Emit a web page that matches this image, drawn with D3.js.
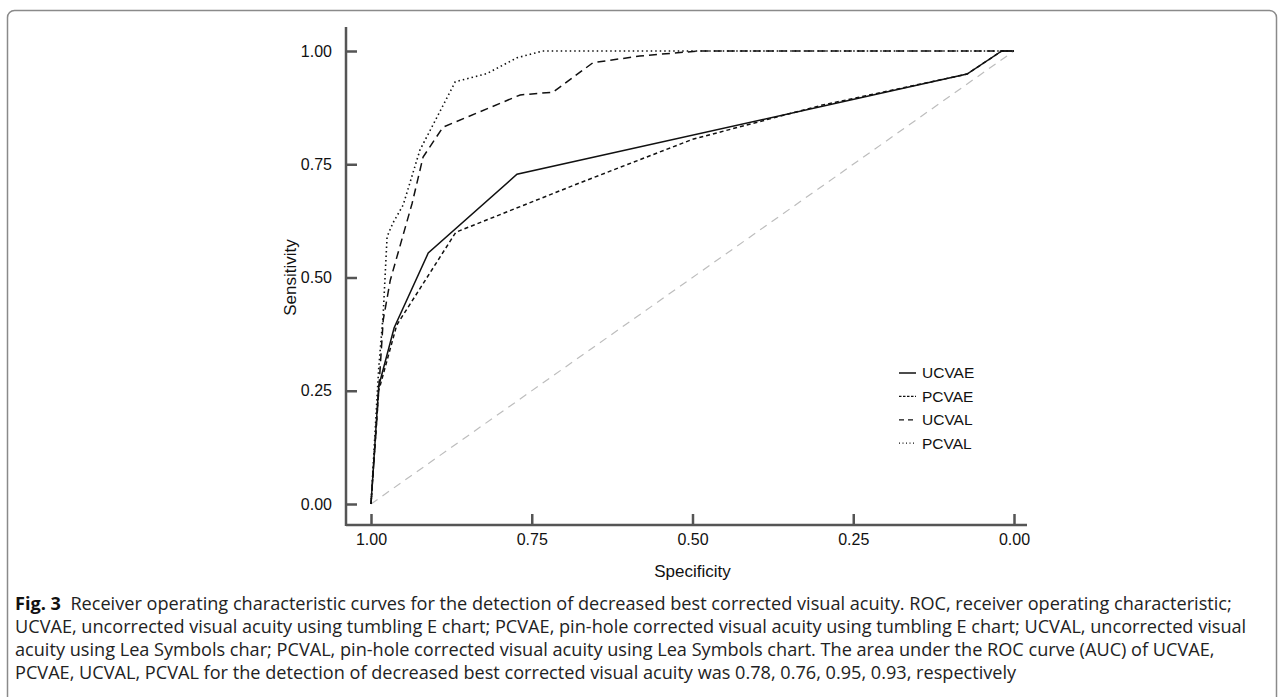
<!DOCTYPE html>
<html lang="en">
<head>
<meta charset="UTF-8">
<title>ROC curves</title>
<script src="https://cdn.jsdelivr.net/npm/d3@7"></script>
<style>
  body { margin: 0; background: #fff; }
  svg { display: block; }
</style>
</head>
<body>
<div id="chart"></div>
<script>
// ROC points: specificity (x, reversed) and sensitivity (y)
const ucvaeSpec = [1.00, 0.988, 0.964, 0.911, 0.773, 0.073, 0.019, 0.00];
const ucvaeSens = [0.00, 0.26, 0.389, 0.554, 0.728, 0.949, 1.00, 1.00];

const pcvaeSpec = [1.00, 0.988, 0.960, 0.868, 0.675, 0.50, 0.30, 0.073, 0.019, 0.00];
const pcvaeSens = [0.00, 0.25, 0.395, 0.600, 0.709, 0.805, 0.88, 0.949, 1.00, 1.00];

const ucvalSpec = [1.00, 0.988, 0.981, 0.970, 0.936, 0.919, 0.888, 0.768, 0.717, 0.655, 0.582, 0.49, 0.00];
const ucvalSens = [0.00, 0.25, 0.406, 0.494, 0.664, 0.766, 0.832, 0.903, 0.909, 0.974, 0.989, 1.00, 1.00];

const pcvalSpec = [1.00, 0.988, 0.981, 0.975, 0.966, 0.950, 0.924, 0.869, 0.82, 0.773, 0.733, 0.00];
const pcvalSens = [0.00, 0.30, 0.42, 0.59, 0.62, 0.66, 0.781, 0.932, 0.95, 0.985, 1.00, 1.00];

const seriesNames = ["UCVAE", "PCVAE", "UCVAL", "PCVAL"];
const tickValues = [1.00, 0.75, 0.50, 0.25, 0.00];

const captionLines = [
  ["Fig. 3", "  Receiver operating characteristic curves for the detection of decreased best corrected visual acuity. ROC, receiver operating characteristic;"],
  ["", "UCVAE, uncorrected visual acuity using tumbling E chart; PCVAE, pin-hole corrected visual acuity using tumbling E chart; UCVAL, uncorrected visual"],
  ["", "acuity using Lea Symbols char; PCVAL, pin-hole corrected visual acuity using Lea Symbols chart. The area under the ROC curve (AUC) of UCVAE,"],
  ["", "PCVAE, UCVAL, PCVAL for the detection of decreased best corrected visual acuity was 0.78, 0.76, 0.95, 0.93, respectively"]
];

const width = 1284;
const height = 697;

const dashes = {
  UCVAE: null,
  PCVAE: "4,3",
  UCVAL: "8,5",
  PCVAL: "1.5,3"
};

const series = [
  {name: "UCVAE", points: ucvaeSpec.map((s, i) => [s, ucvaeSens[i]])},
  {name: "PCVAE", points: pcvaeSpec.map((s, i) => [s, pcvaeSens[i]])},
  {name: "UCVAL", points: ucvalSpec.map((s, i) => [s, ucvalSens[i]])},
  {name: "PCVAL", points: pcvalSpec.map((s, i) => [s, pcvalSens[i]])}
];

const x = d3.scaleLinear().domain([1, 0]).range([371, 1014]);
const y = d3.scaleLinear().domain([0, 1]).range([504, 51]);

const svg = d3.select("#chart").append("svg")
  .attr("width", width)
  .attr("height", height);

// figure frame
svg.append("rect")
  .attr("x", 7.5).attr("y", 10.5)
  .attr("width", 1269).attr("height", 720)
  .attr("rx", 7)
  .attr("fill", "none")
  .attr("stroke", "#8a8a8a")
  .attr("stroke-width", 1.5);

const axisColor = "#555";

// x axis
const gx = svg.append("g")
  .attr("transform", "translate(0,525)")
  .call(d3.axisBottom(x)
    .tickValues(tickValues)
    .tickFormat(d3.format(".2f"))
    .tickSizeInner(-11)
    .tickSizeOuter(0)
    .tickPadding(9));
gx.select(".domain").remove();
gx.append("line")
  .attr("x1", 346).attr("x2", 1027)
  .attr("stroke", axisColor).attr("stroke-width", 2.5);

// y axis
const gy = svg.append("g")
  .attr("transform", "translate(346,0)")
  .call(d3.axisLeft(y)
    .tickValues(tickValues)
    .tickFormat(d3.format(".2f"))
    .tickSizeInner(-11)
    .tickSizeOuter(0)
    .tickPadding(14));
gy.select(".domain").remove();
gy.append("line")
  .attr("y1", 27).attr("y2", 526)
  .attr("stroke", axisColor).attr("stroke-width", 2.5);

[gx, gy].forEach(g => {
  g.selectAll(".tick line").attr("stroke", axisColor).attr("stroke-width", 2.5);
  g.selectAll(".tick text")
    .attr("fill", "#111")
    .attr("font-family", "Liberation Sans, Arial, sans-serif")
    .attr("font-size", 16);
});

// axis titles
svg.append("text")
  .attr("x", (x(1) + x(0)) / 2)
  .attr("y", 577)
  .attr("text-anchor", "middle")
  .attr("font-family", "Liberation Sans, Arial, sans-serif")
  .attr("font-size", 17)
  .attr("fill", "#111")
  .text("Specificity");

svg.append("text")
  .attr("transform", `translate(296,${(y(0) + y(1)) / 2}) rotate(-90)`)
  .attr("text-anchor", "middle")
  .attr("font-family", "Liberation Sans, Arial, sans-serif")
  .attr("font-size", 17)
  .attr("fill", "#111")
  .text("Sensitivity");

// reference diagonal
svg.append("line")
  .attr("x1", x(1)).attr("y1", y(0))
  .attr("x2", x(0)).attr("y2", y(1))
  .attr("stroke", "#bdbdbd")
  .attr("stroke-width", 1.2)
  .attr("stroke-dasharray", "8,6");

const line = d3.line()
  .x(d => x(d[0]))
  .y(d => y(d[1]));

svg.append("g")
  .selectAll("path")
  .data(series)
  .join("path")
  .attr("d", d => line(d.points))
  .attr("fill", "none")
  .attr("stroke", "#111")
  .attr("stroke-width", d => d.name === "PCVAL" ? 1.6 : 1.5)
  .attr("stroke-dasharray", d => dashes[d.name]);

// legend
const legend = svg.append("g")
  .selectAll("g")
  .data(seriesNames)
  .join("g")
  .attr("transform", (d, i) => `translate(899,${373 + i * 23.4})`);

legend.append("line")
  .attr("x1", 0).attr("x2", 17)
  .attr("stroke", "#111")
  .attr("stroke-width", d => d === "UCVAE" ? 1.5 : 1.2)
  .attr("stroke-dasharray", d => d === "UCVAE" ? null : (d === "PCVAE" ? "2.5,1.5" : d === "UCVAL" ? "5,4" : "1,2.5"));

legend.append("text")
  .attr("x", 23)
  .attr("dy", "0.35em")
  .attr("font-family", "Liberation Sans, Arial, sans-serif")
  .attr("font-size", 15.5)
  .attr("fill", "#111")
  .text(d => d);

// caption: size picked so the first line spans the same width as in the figure
const cap = svg.append("g")
  .attr("font-family", "Open Sans, sans-serif")
  .attr("font-size", 15)
  .attr("fill", "#222");

const capText = cap.selectAll("text")
  .data(captionLines)
  .join("text")
  .attr("x", 15)
  .attr("y", (d, i) => 610 + i * 23)
  .each(function(d) {
    const t = d3.select(this);
    if (d[0]) t.append("tspan").attr("font-weight", "bold").attr("fill", "#111").text(d[0]);
    t.append("tspan").attr("xml:space", "preserve").text(d[1]);
  });

const firstWidth = capText.node().getComputedTextLength();
cap.attr("font-size", 15 * 1218 / firstWidth);
</script>
</body>
</html>
